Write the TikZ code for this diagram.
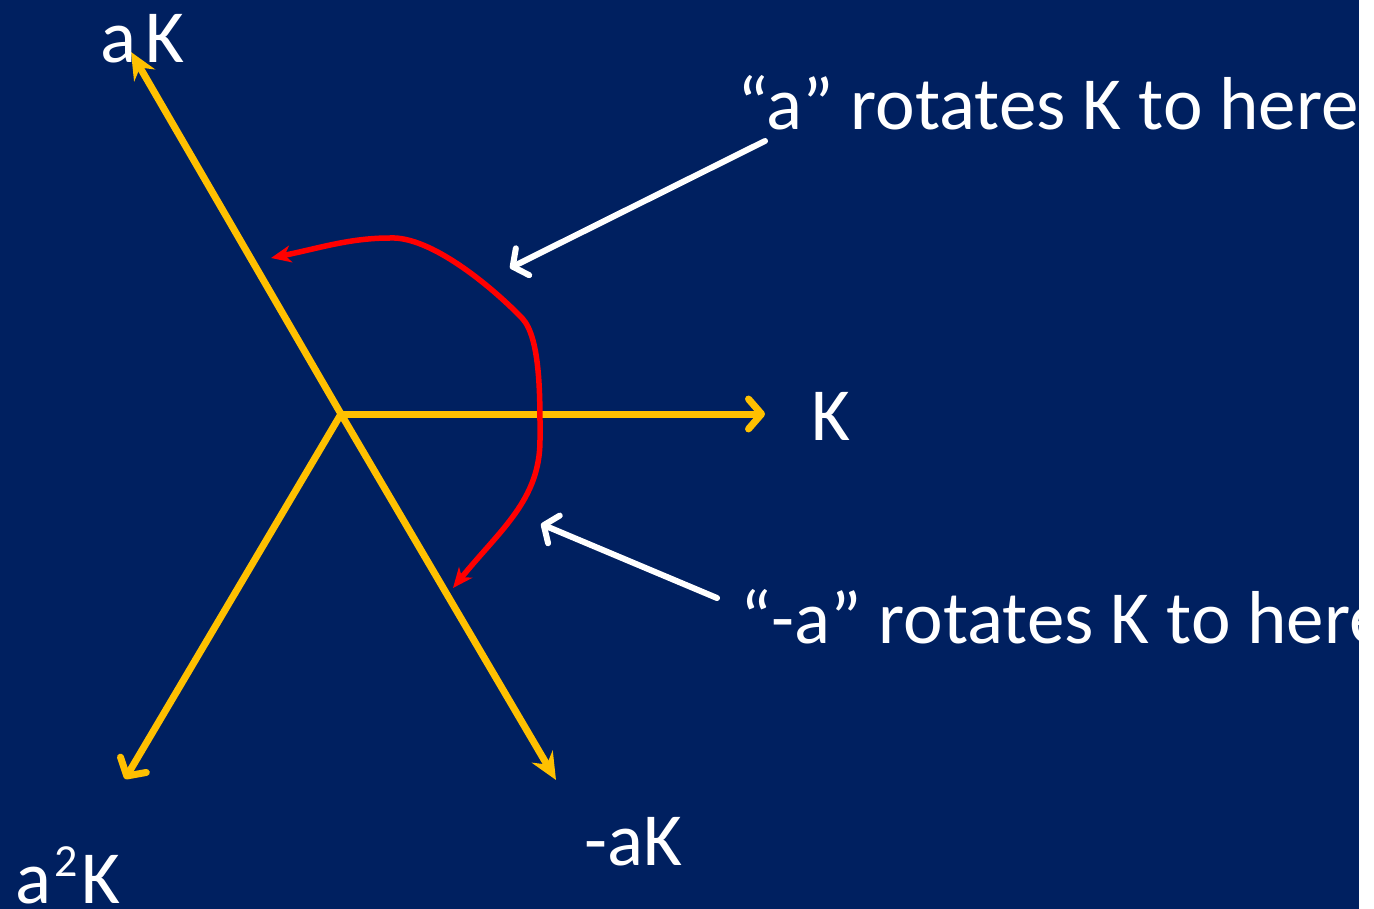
\documentclass[tikz,border=0pt]{standalone}
\usepackage{fontspec}
\setmainfont{Carlito}
\usetikzlibrary{arrows.meta}
\definecolor{bg}{RGB}{0,32,96}
\definecolor{ax}{RGB}{255,192,0}
\definecolor{rd}{RGB}{255,0,0}
\tikzset{
  axis/.style={draw=ax, line width=7pt},
  stealthtip/.style={-{Stealth[length=27pt,width=24pt,inset=9pt]}},
  barbtip/.style={-{Straight Barb[length=13pt,width=30pt,line cap=round,line join=round]}},
  pointer/.style={draw=white, line width=6pt, line cap=round, -{Straight Barb[length=11pt,width=30pt,line cap=round,line join=round]}},
  curve/.style={draw=rd, line width=5.5pt, {Stealth[length=20pt,width=17pt,inset=6pt]}-{Stealth[length=20pt,width=17pt,inset=6pt]}},
  lab/.style={text=white, inner sep=0pt, anchor=base west, font=\fontsize{75}{90}\selectfont}
}
\begin{document}
\begin{tikzpicture}[x=1pt,y=-1pt]
\useasboundingbox (0,0) rectangle (1374,909);
\fill[white] (0,0) rectangle (1374,909);
\fill[bg] (0,0) rectangle (1359,909);
\begin{scope}
\clip (0,0) rectangle (1359,909);
\coordinate (O) at (341,414);
\coordinate (tK) at (765,414);
\coordinate (taK) at (131,52);
\coordinate (tmaK) at (556,780);
\coordinate (ta2K) at (125,779);
\draw[axis,barbtip] (O) -- (tK);
\draw[axis,barbtip] (O) -- (ta2K);
\draw[axis,stealthtip] (O) -- (taK);
\draw[axis,stealthtip] (O) -- (tmaK);
% red curve
\coordinate (r1) at (271,258);
\coordinate (r2) at (390,238);
\coordinate (r3) at (522,318);
\coordinate (r4) at (540,440);
\coordinate (r5) at (453,588);
\draw[curve] (r1) .. controls (320,248) and (350,238) .. (r2)
  .. controls (430,236) and (490,285) .. (r3)
  .. controls (541,338) and (540,400) .. (r4)
  .. controls (540,500) and (500,530) .. (r5);
% white pointers
\coordinate (p1s) at (765,141);
\coordinate (p1e) at (510,268);
\coordinate (p2s) at (717,598);
\coordinate (p2e) at (541,524);
\draw[pointer] (p1s) -- (p1e);
\draw[pointer] (p2s) -- (p2e);
% labels
\node[lab] (laK) at (100,63) {a\hspace{9pt}K};
\node[lab] (lK) at (811,440) {K};
\node[lab] (lmaK) at (584,865) {-aK};
\node[lab] (la2K) at (15,903) {a\hspace{3pt}\raisebox{27pt}{\fontsize{46}{50}\selectfont 2}\hspace{4pt}K};
\node[lab] (t1) at (737,130) {“a” rotates K to here};
\node[lab] (t2) at (740,643) {“-a” rotates K to here};
\end{scope}
\end{tikzpicture}
\end{document}
